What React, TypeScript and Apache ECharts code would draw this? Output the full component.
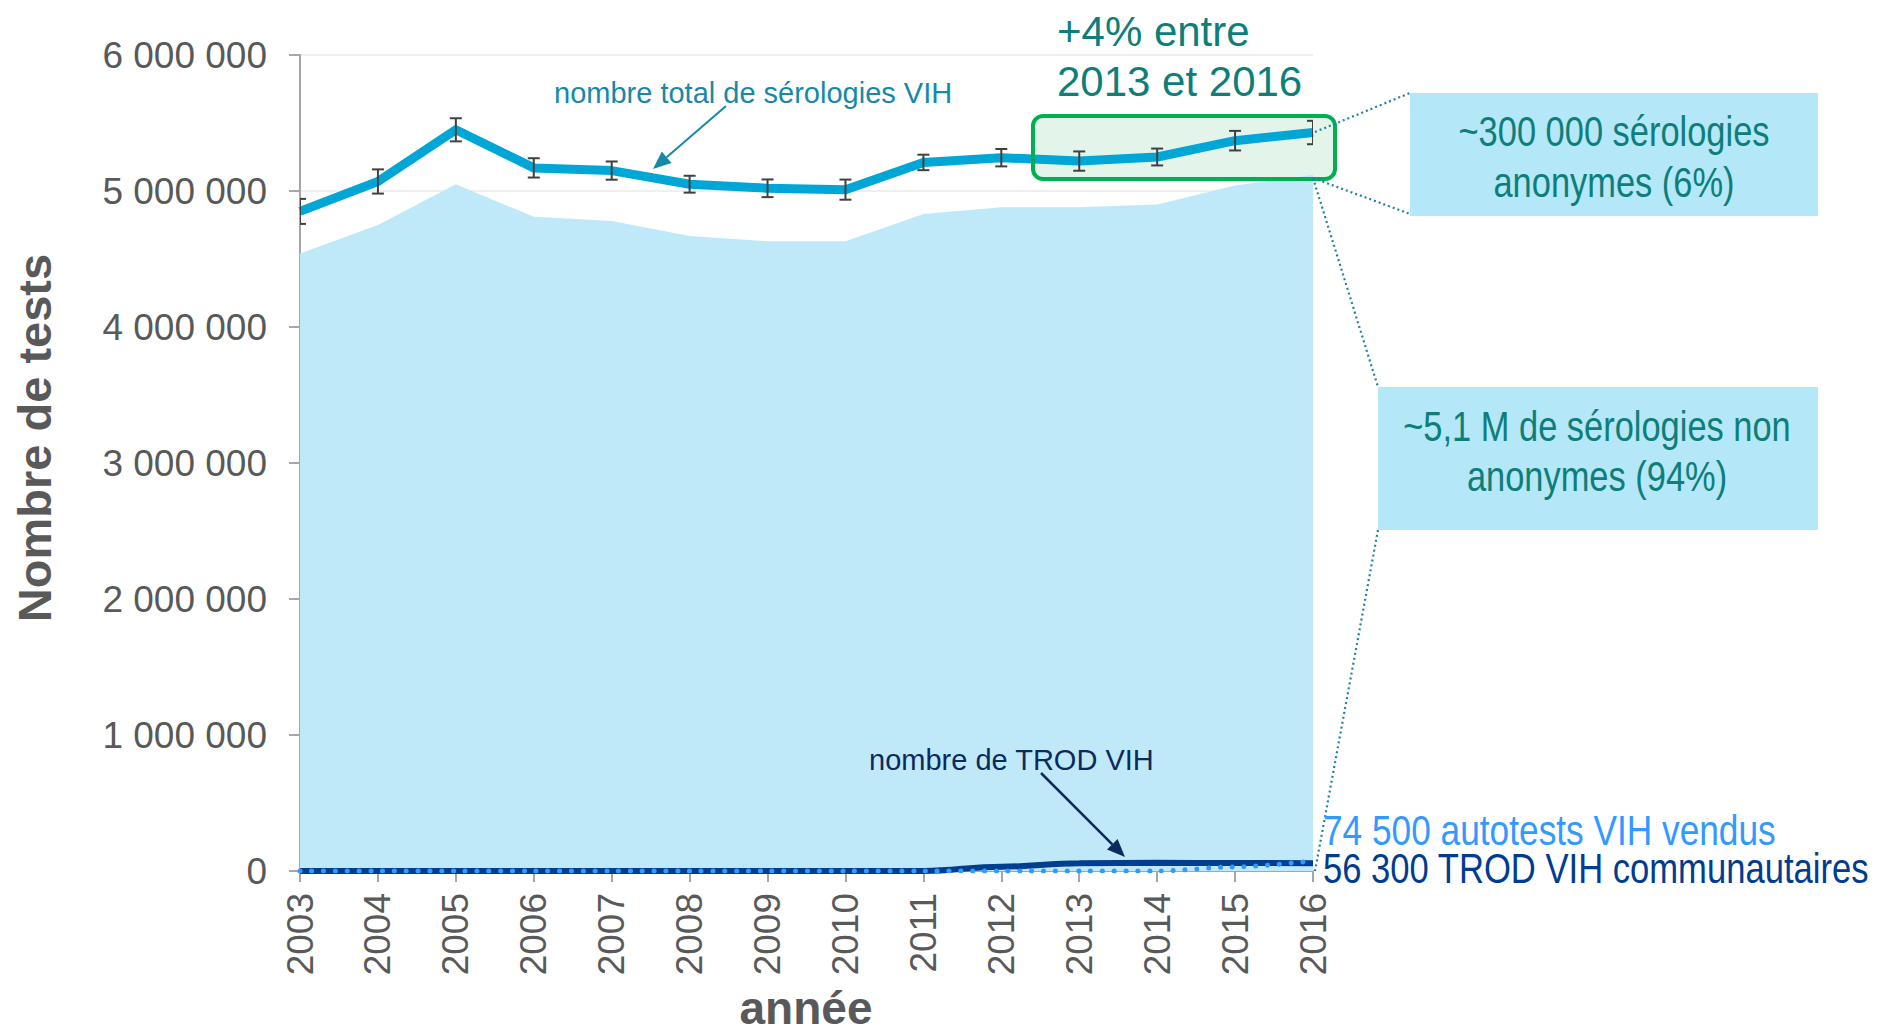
import React, { useEffect, useRef } from "react";
import * as echarts from "echarts";

const years = ["2003", "2004", "2005", "2006", "2007", "2008", "2009", "2010", "2011", "2012", "2013", "2014", "2015", "2016"];
const totalSerologies = [4850000, 5070000, 5450000, 5170000, 5150000, 5050000, 5020000, 5010000, 5210000, 5245000, 5220000, 5250000, 5370000, 5430000];
const nonAnonymous = [4540000, 4750000, 5050000, 4810000, 4780000, 4670000, 4630000, 4630000, 4830000, 4880000, 4880000, 4900000, 5040000, 5120000];
const errorHalfWidth = [92000, 89000, 85000, 71000, 67000, 62000, 65000, 74000, 57000, 64000, 71000, 62000, 72000, 86000];
const trod = [0, 0, 0, 0, 0, 0, 0, 0, 0, 31700, 56500, 60000, 59000, 56300];
const autotests = [0, 0, 0, 0, 0, 0, 0, 0, 0, 0, 0, 0, 30000, 74500];
const yTicks = { min: 0, max: 6000000, interval: 1000000 };

const FONT = "'Liberation Sans', Arial, sans-serif";
const GREY = "#595959";

function fmt(v: number) {
  return String(Math.round(v)).replace(/\B(?=(\d{3})+(?!\d))/g, " ");
}

function arrow(x1: number, y1: number, x2: number, y2: number, color: string, width: number, headLen: number, headW: number) {
  const ang = Math.atan2(y2 - y1, x2 - x1);
  const bx = x2 - headLen * Math.cos(ang);
  const by = y2 - headLen * Math.sin(ang);
  const px = (-Math.sin(ang) * headW) / 2;
  const py = (Math.cos(ang) * headW) / 2;
  return [
    { type: "line", z: 20, shape: { x1, y1, x2: bx, y2: by }, style: { stroke: color, lineWidth: width } },
    { type: "polygon", z: 20, shape: { points: [[x2, y2], [bx + px, by + py], [bx - px, by - py]] }, style: { fill: color } },
  ];
}

function txt(text: string, x: number, y: number, size: number, color: string, opts: any = {}) {
  return {
    type: "text",
    z: 20,
    x,
    y,
    scaleX: opts.scaleX ?? 1,
    rotation: opts.rotation ?? 0,
    style: {
      text,
      fill: color,
      fontSize: size,
      fontFamily: FONT,
      fontWeight: opts.bold ? "bold" : "normal",
      align: opts.align ?? "left",
      verticalAlign: "middle",
    },
  };
}

function dotted(x1: number, y1: number, x2: number, y2: number) {
  return { type: "line", z: 20, shape: { x1, y1, x2, y2 }, style: { stroke: "#1F80A0", lineWidth: 2.2, lineDash: [2, 3] } };
}

export default function App() {
  const ref = useRef<HTMLDivElement>(null);
  useEffect(() => {
    const chart = echarts.init(ref.current!, null, { renderer: "svg" });
    const N = 0.82;
    const teal = "#0E7E78";
    const option: any = {
      animation: false,
      backgroundColor: "#ffffff",
      grid: { left: 300, right: 566, top: 55, bottom: 162, containLabel: false },
      xAxis: {
        type: "category",
        data: years,
        boundaryGap: false,
        axisLine: { lineStyle: { color: "#A6A6A6", width: 2 } },
        axisTick: { show: true, length: 11, lineStyle: { color: "#A6A6A6", width: 2 }, alignWithLabel: true },
        axisLabel: { rotate: 90, margin: 22, fontSize: 37, color: GREY, fontFamily: FONT },
        splitLine: { show: false },
      },
      yAxis: {
        type: "value",
        min: yTicks.min,
        max: yTicks.max,
        interval: yTicks.interval,
        axisLine: { show: true, lineStyle: { color: "#A6A6A6", width: 2 } },
        axisTick: { show: true, length: 11, lineStyle: { color: "#A6A6A6", width: 2 } },
        axisLabel: { margin: 33, fontSize: 37, color: GREY, fontFamily: FONT, formatter: (v: number) => fmt(v) },
        splitLine: { show: true, lineStyle: { color: "#EFEFEF", width: 2 } },
      },
      series: [
        {
          name: "non anonymes",
          type: "line",
          data: nonAnonymous,
          symbol: "none",
          z: 1,
          lineStyle: { width: 0, color: "#BFE9F9" },
          areaStyle: { color: "#BFE9F9", opacity: 1 },
          silent: true,
        },
        {
          name: "total",
          type: "line",
          data: totalSerologies,
          symbol: "none",
          z: 3,
          lineStyle: { width: 9, color: "#00A6D6", join: "round" },
          silent: true,
        },
        {
          name: "erreur",
          type: "custom",
          z: 4,
          clip: true,
          silent: true,
          encode: { x: 0, y: [1, 2] },
          data: years.map((_, i) => [i, totalSerologies[i] - errorHalfWidth[i], totalSerologies[i] + errorHalfWidth[i]]),
          renderItem: (params: any, api: any) => {
            const lo = api.coord([api.value(0), api.value(1)]);
            const hi = api.coord([api.value(0), api.value(2)]);
            const w = 6;
            const style = { stroke: "#404040", lineWidth: 2 };
            return {
              type: "group",
              children: [
                { type: "line", shape: { x1: lo[0], y1: lo[1], x2: hi[0], y2: hi[1] }, style },
                { type: "line", shape: { x1: lo[0] - w, y1: lo[1], x2: lo[0] + w, y2: lo[1] }, style },
                { type: "line", shape: { x1: hi[0] - w, y1: hi[1], x2: hi[0] + w, y2: hi[1] }, style },
              ],
            };
          },
        },
        {
          name: "TROD",
          type: "line",
          data: trod,
          symbol: "none",
          smooth: 0.4,
          smoothMonotone: "x",
          z: 5,
          lineStyle: { width: 6, color: "#003F8F" },
          silent: true,
        },
        {
          name: "autotests",
          type: "line",
          data: autotests,
          symbol: "none",
          smooth: 0.3,
          smoothMonotone: "x",
          z: 6,
          lineStyle: { width: 5, color: "#3399FF", type: [0.1, 11.7], cap: "round" },
          silent: true,
        },
      ],
      graphic: [
        { type: "rect", z: 0, shape: { x: 1033, y: 116, width: 302, height: 63, r: 10 }, style: { fill: "#E3F5EA" } },
        { type: "rect", z: 20, shape: { x: 1033, y: 116, width: 302, height: 63, r: 10 }, style: { fill: "none", stroke: "#00B050", lineWidth: 4 } },
        txt("+4% entre", 1057, 31, 42, teal),
        txt("2013 et 2016", 1057, 81, 42, teal),
        { type: "rect", z: 19, shape: { x: 1410, y: 93, width: 408, height: 123 }, style: { fill: "#B4E7F8" } },
        txt("~300 000 sérologies", 1614, 131, 42, teal, { align: "center", scaleX: N }),
        txt("anonymes (6%)", 1614, 182, 42, teal, { align: "center", scaleX: N }),
        { type: "rect", z: 19, shape: { x: 1378, y: 387, width: 440, height: 143 }, style: { fill: "#B4E7F8" } },
        txt("~5,1 M de sérologies non", 1597, 426, 42, teal, { align: "center", scaleX: N }),
        txt("anonymes (94%)", 1597, 476, 42, teal, { align: "center", scaleX: N }),
        dotted(1315, 132, 1410, 93),
        dotted(1313, 178, 1410, 214),
        dotted(1313, 178, 1378, 387),
        dotted(1378, 530, 1315, 871),
        txt("nombre total de sérologies VIH", 554, 93, 29, "#1689A8"),
        ...arrow(726, 106, 653, 169, "#1689A8", 2, 18, 15),
        txt("nombre de TROD VIH", 869, 760, 29, "#0D2A5E"),
        ...arrow(1041, 773, 1125, 857, "#0D2A5E", 2.5, 18, 15),
        txt("74 500 autotests VIH vendus", 1323, 830, 43, "#3399FF", { scaleX: N }),
        txt("56 300 TROD VIH communautaires", 1323, 868, 43, "#003C8F", { scaleX: 0.805 }),
        txt("Nombre de tests", 34, 438, 47, GREY, { bold: true, align: "center", rotation: Math.PI / 2 }),
        txt("année", 806, 1008, 46, GREY, { bold: true, align: "center" }),
      ],
    };
    chart.setOption(option);
    return () => chart.dispose();
  }, []);
  return <div ref={ref} style={{ position: "absolute", left: 0, top: 0, width: 1879, height: 1033, background: "#fff" }} />;
}
